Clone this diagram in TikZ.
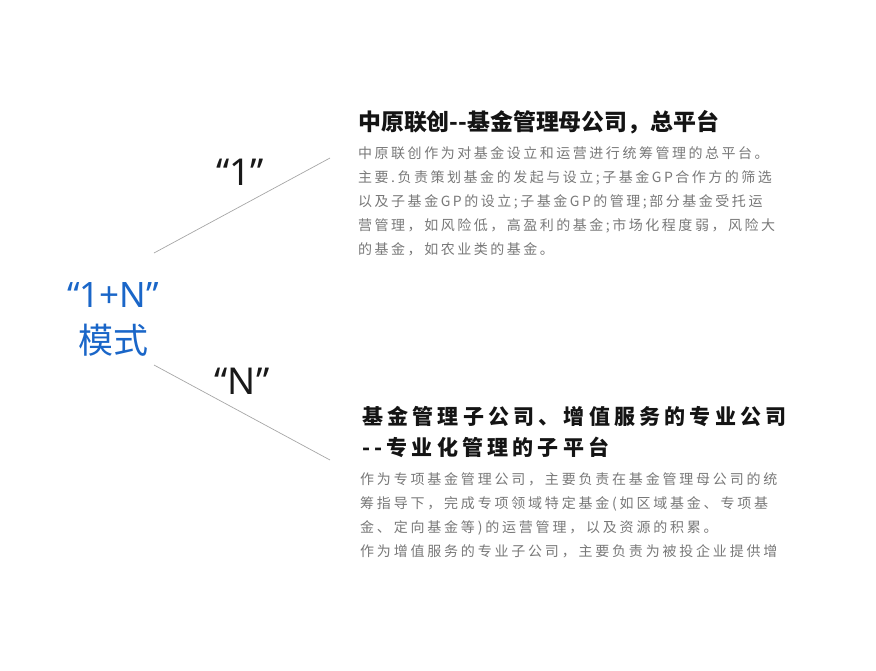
\documentclass[tikz,border=0pt]{standalone}
\usepackage{fontspec}
\setmainfont{Noto Sans}
\newfontfamily\cjk{Noto Sans CJK SC}
\newfontfamily\cjkbody[LetterSpace=18]{Noto Sans CJK SC}
\newfontfamily\cjkbodywide[LetterSpace=20]{Noto Sans CJK SC}
\newfontfamily\cjktitle[LetterSpace=20]{Noto Sans CJK SC}
\usetikzlibrary{positioning}
\definecolor{modeblue}{HTML}{1A66C8}
\definecolor{bodygray}{HTML}{787878}

\begin{document}
\begin{tikzpicture}[x=1pt,y=-1pt,inner sep=0pt,
      branch/.style={draw=black!35,line width=0.7pt},
      modelabel/.style={align=center,text=modeblue,font=\fontsize{35}{46}\selectfont},
      partlabel/.style={text=black!90,font=\fontsize{37}{40}\selectfont},
      headline/.style={anchor=north west,align=left,text=black!92,font=#1\bfseries},
      bodytext/.style={anchor=north west,align=left,text=bodygray,font=#1\fontsize{14}{24}\selectfont}]
  \useasboundingbox (0,0) rectangle (876,670);
  % centre
  \node[modelabel] (mode) at (113,319) {“1+N”\\{\cjk 模式}};
  \coordinate (up start) at (154,253);
  \coordinate (up end) at (330,158);
  \coordinate (down start) at (154,365);
  \coordinate (down end) at (330,460);
  \draw[branch] (up start) -- (up end);
  \draw[branch] (down start) -- (down end);
  \node[partlabel] (one) at (240,172) {“1”};
  \node[partlabel] (many) at (242,381) {“N”};
  % parent company
  \node[headline=\cjk\fontsize{22.9}{28}\selectfont] (parent) at (358,110) {中原联创--基金管理母公司，总平台};
  \node[bodytext=\cjkbody] (parent text) at (358,146) {中原联创作为对基金设立和运营进行统筹管理的总平台。\\
    主要.负责策划基金的发起与设立;子基金GP合作方的筛选\\
    以及子基金GP的设立;子基金GP的管理;部分基金受托运\\
    营管理，如风险低，高盈利的基金;市场化程度弱，风险大\\
    的基金，如农业类的基金。};
  % subsidiaries
  \node[headline=\cjktitle\fontsize{21}{31}\selectfont] (child) at (362,406) {基金管理子公司、增值服务的专业公司\\
    --专业化管理的子平台};
  \node[bodytext=\cjkbodywide] (child text) at (360,472) {作为专项基金管理公司，主要负责在基金管理母公司的统\\
    筹指导下，完成专项领域特定基金(如区域基金、专项基\\
    金、定向基金等)的运营管理，以及资源的积累。\\
    作为增值服务的专业子公司，主要负责为被投企业提供增};
\end{tikzpicture}
\end{document}
